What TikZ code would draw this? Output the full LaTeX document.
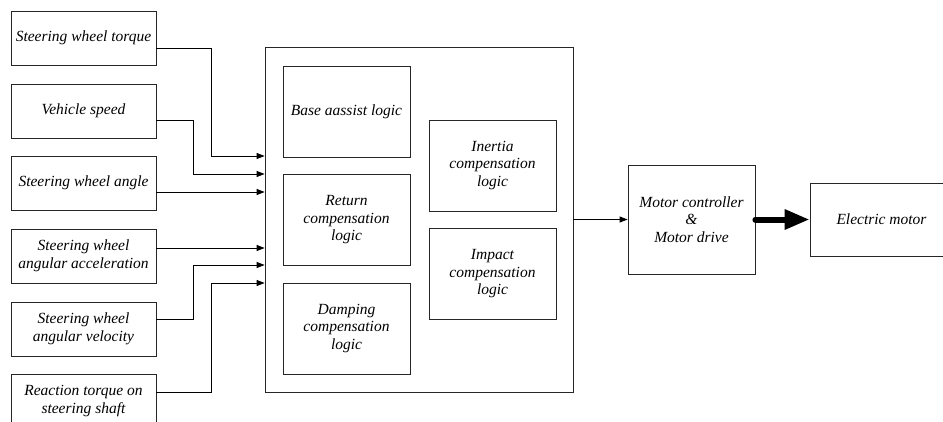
\documentclass[tikz,border=0pt]{standalone}
\usepackage{fontspec}
\setmainfont{Liberation Serif}
\usetikzlibrary{arrows.meta}

\begin{document}
\begin{tikzpicture}[x=1pt,y=-1pt,
  sig/.style={draw=black!85,line width=0.8pt,fill=white,inner sep=0pt,
              minimum width=145pt,minimum height=54pt,align=center,
              font=\fontsize{15.5}{17.5}\selectfont\itshape},
  logic/.style={sig,minimum width=127pt,minimum height=91pt},
  unit/.style={draw=black!85,line width=0.8pt,fill=white,inner sep=0pt},
  arr/.style={-{Triangle[length=8pt,width=6pt]},line width=0.8pt,draw=black},
  power/.style={-{Triangle[length=25pt,width=19pt]},line width=6pt,line cap=round,draw=black}
]
\useasboundingbox (0,0) rectangle (943,421);
\clip (0,0) rectangle (943,421);

\node[sig] (torque) at (83.5,38) {Steering wheel torque};
\node[sig] (speed) at (83.5,111) {Vehicle speed};
\node[sig] (angle) at (83.5,183) {Steering wheel angle};
\node[sig] (accel) at (83.5,256) {Steering wheel\\angular acceleration};
\node[sig] (veloc) at (83.5,329) {Steering wheel\\angular velocity};
\node[sig] (react) at (83.5,401) {Reaction torque on\\steering shaft};

\node[unit,minimum width=308pt,minimum height=345pt] (ecu) at (419,219.5) {};
\node[logic] (base) at (346.5,111.5) {Base aassist logic};
\node[logic] (ret) at (346.5,220) {Return\\compensation\\logic};
\node[logic] (damp) at (346.5,328.5) {Damping\\compensation\\logic};
\node[logic] (inert) at (492.5,165.5) {Inertia\\compensation\\logic};
\node[logic] (impact) at (492.5,274) {Impact\\compensation\\logic};

\node[logic,minimum height=109pt] (mc) at (691.5,219.5) {Motor controller\\\&\\Motor drive};
\node[sig,minimum width=143pt,minimum height=73pt] (motor) at (881.5,219.5) {Electric motor};

\draw[arr] ([yshift=-10pt]torque.east) -- ++(55,0) |- ([yshift=63.5pt]ecu.west);
\draw[arr] ([yshift=-9pt]speed.east) -- ++(37,0) |- ([yshift=45.5pt]ecu.west);
\draw[arr] ([yshift=-9pt]angle.east) -- ([yshift=27.5pt]ecu.west);
\draw[arr] ([yshift=8pt]accel.east) -- ([yshift=-28.5pt]ecu.west);
\draw[arr] ([yshift=9.5pt]veloc.east) -- ++(37,0) |- ([yshift=-45.5pt]ecu.west);
\draw[arr] ([yshift=9pt]react.east) -- ++(55,0) |- ([yshift=-63.5pt]ecu.west);
\draw[arr] (ecu.east) -- (mc.west);
\draw[power] (mc.east) -- (motor.west);
\end{tikzpicture}
\end{document}
